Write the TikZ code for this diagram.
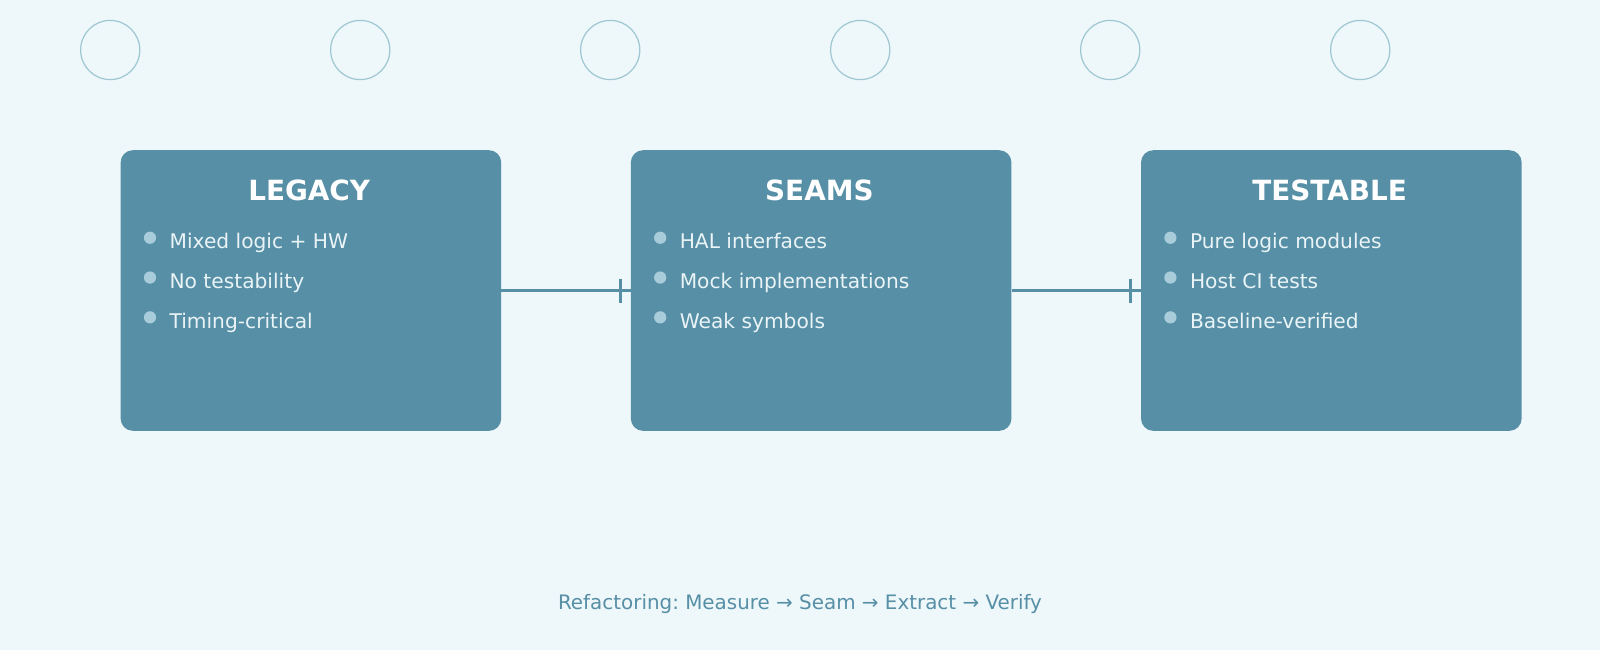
\documentclass[tikz,border=0pt]{standalone}
\usepackage{fontspec}
\setmainfont{DejaVu Sans}
\definecolor{bg}{HTML}{EEF7F9}
\definecolor{boxc}{HTML}{568FA6}
\definecolor{ring}{HTML}{9FC8D4}
\definecolor{dot}{HTML}{A9CCDA}
\definecolor{itemc}{HTML}{EAF4F7}
\begin{document}
\begin{tikzpicture}[x=1pt,y=-1pt,
  panel/.style={fill=boxc,draw=none,rounded corners=12pt},
  ttl/.style={text=white,font=\fontsize{27.3}{30}\selectfont\bfseries,anchor=base},
  itm/.style={text=itemc,font=\fontsize{19.8}{22}\selectfont,anchor=base west,inner sep=0},
  bul/.style={circle,fill=dot,minimum size=12pt,inner sep=0},
  deco/.style={draw=ring,line width=1.2pt},
  conn/.style={draw=boxc,line width=3pt}]
\fill[bg] (0,0) rectangle (1568,637);
\useasboundingbox (0,0) rectangle (1568,637);
\foreach \i/\x in {1/108,2/353,3/598,4/843,5/1088,6/1333}
  \draw[deco] (\x,49) circle (29);
\foreach \n/\x/\t/\a/\b/\c in {L/118/LEGACY/Mixed logic + HW/No testability/Timing-critical,
  S/618/SEAMS/HAL interfaces/Mock implementations/Weak symbols,
  T/1118/TESTABLE/Pure logic modules/Host CI tests/Baseline-verified}{
  \node[panel,minimum width=373pt,minimum height=275pt,anchor=north west] (\n) at (\x,147) {};
  \node[ttl] (\n t) at (\x+185,196) {\t};
  \node[bul] (\n b1) at (\x+29,233) {};
  \node[bul] (\n b2) at (\x+29,272) {};
  \node[bul] (\n b3) at (\x+29,311) {};
  \node[itm] (\n i1) at (\x+48,244) {\a};
  \node[itm] (\n i2) at (\x+48,283) {\b};
  \node[itm] (\n i3) at (\x+48,322) {\c};
}
\draw[conn] (L.east |- 0,285) -- (S.west |- 0,285);
\draw[conn] (S.east |- 0,285) -- (T.west |- 0,285);
\draw[conn] (608,273) -- (608,297);
\draw[conn] (1108,273) -- (1108,297);
\node[text=boxc,font=\fontsize{19.5}{22}\selectfont,anchor=base] (foot) at (784,597) {Refactoring:~Measure → Seam → Extract → Verify};
\end{tikzpicture}
\end{document}
